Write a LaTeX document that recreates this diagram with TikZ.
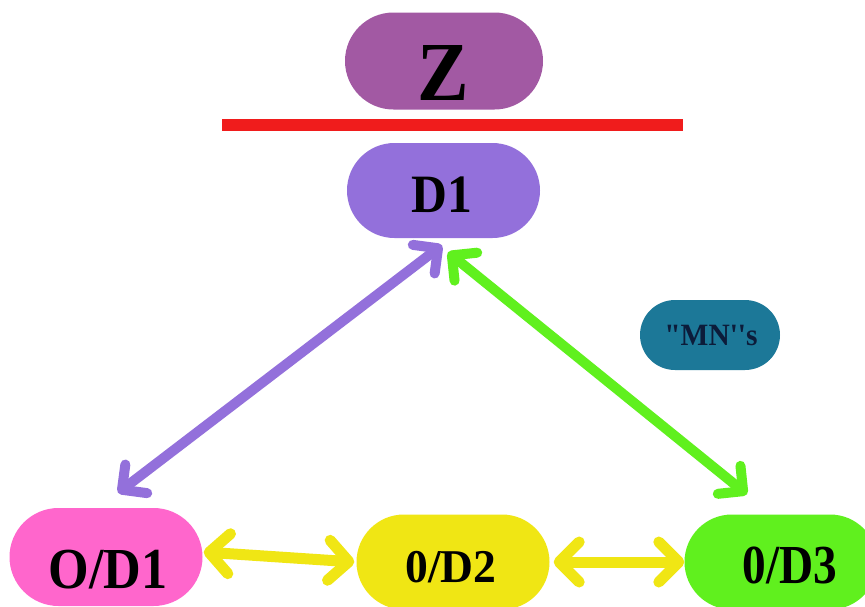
\documentclass[tikz,border=0pt]{standalone}
\usepackage{fontspec}
\setmainfont{Liberation Serif}[Ligatures=TeXOff]
\usetikzlibrary{arrows.meta,shapes.misc}
\definecolor{zpurple}{RGB}{162,89,163}
\definecolor{dpurple}{RGB}{147,112,219}
\definecolor{mnblue}{RGB}{28,120,152}
\definecolor{mnink}{RGB}{12,28,58}
\definecolor{pinkbox}{RGB}{255,102,204}
\definecolor{yellowbox}{RGB}{240,230,20}
\definecolor{limebox}{RGB}{96,240,30}
\definecolor{redbar}{RGB}{240,28,28}
\tikzset{
  barb/.tip={Straight Barb[length=18pt,width=36pt,round]},
  wbarb/.tip={Straight Barb[length=20pt,width=40pt,round]}
}
\begin{document}
\begin{tikzpicture}[x=1pt,y=-1pt,
  pill/.style={rounded rectangle, draw=none, inner sep=0pt},
  caption/.style={inner sep=0pt, anchor=base, text=black},
  link/.style={line cap=round, line width=10pt, barb-barb},
  hlink/.style={line cap=round, line width=11pt, draw=yellowbox, wbarb-wbarb}
]
\useasboundingbox (0,0) rectangle (865,606);
\fill[white] (0,0) rectangle (865,606);

% boxes
\node[pill, fill=zpurple, minimum width=198pt, minimum height=97pt] (z) at (444,61) {};
\node[pill, fill=dpurple, minimum width=193pt, minimum height=95pt] (d1) at (443.5,190.5) {};
\node[pill, fill=mnblue, minimum width=140pt, minimum height=70pt] (mn) at (710,335) {};
\node[pill, fill=pinkbox, minimum width=193pt, minimum height=98pt] (od1) at (106,557) {};
\node[pill, fill=yellowbox, minimum width=193pt, minimum height=95pt] (od2) at (453,562) {};
\node[pill, fill=limebox, minimum width=193pt, minimum height=95pt] (od3) at (781,562) {};

% captions
\node[caption, font=\bfseries\fontsize{84}{84}\selectfont, xscale=0.92] (zt) at (443,100) {Z};
\node[caption, font=\bfseries\fontsize{54}{54}\selectfont, xscale=0.92] (d1t) at (442,212) {D1};
\node[caption, font=\bfseries\fontsize{31}{31}\selectfont, text=mnink, xscale=0.95] (mnt) at (711,345) {"MN''s};
\node[caption, font=\bfseries\fontsize{58}{58}\selectfont, xscale=0.9] (od1t) at (108,588) {O/D1};
\node[caption, font=\bfseries\fontsize{47}{47}\selectfont, xscale=0.97] (od2t) at (451,582) {0/D2};
\node[caption, font=\bfseries\fontsize{55}{55}\selectfont, xscale=0.86] (od3t) at (790,583) {0/D3};

% red divider
\coordinate (barL) at (222,125);
\coordinate (barR) at (683,125);
\draw[redbar, line width=12pt] (barL) -- (barR);

% connectors
\draw[link, dpurple] ([xshift=12pt,yshift=15pt]od1.north) -- ([xshift=-1.5pt,yshift=-7pt]d1.south);
\draw[link, limebox] ([xshift=4.5pt,yshift=-14pt]d1.south) -- ([xshift=-34pt,yshift=20pt]od3.north);
\draw[hlink] ([xshift=1pt,yshift=5pt]od1.east) -- ([xshift=-2pt]od2.west);
\draw[hlink] ([xshift=4pt]od2.east) -- (od3.west);
\end{tikzpicture}
\end{document}
